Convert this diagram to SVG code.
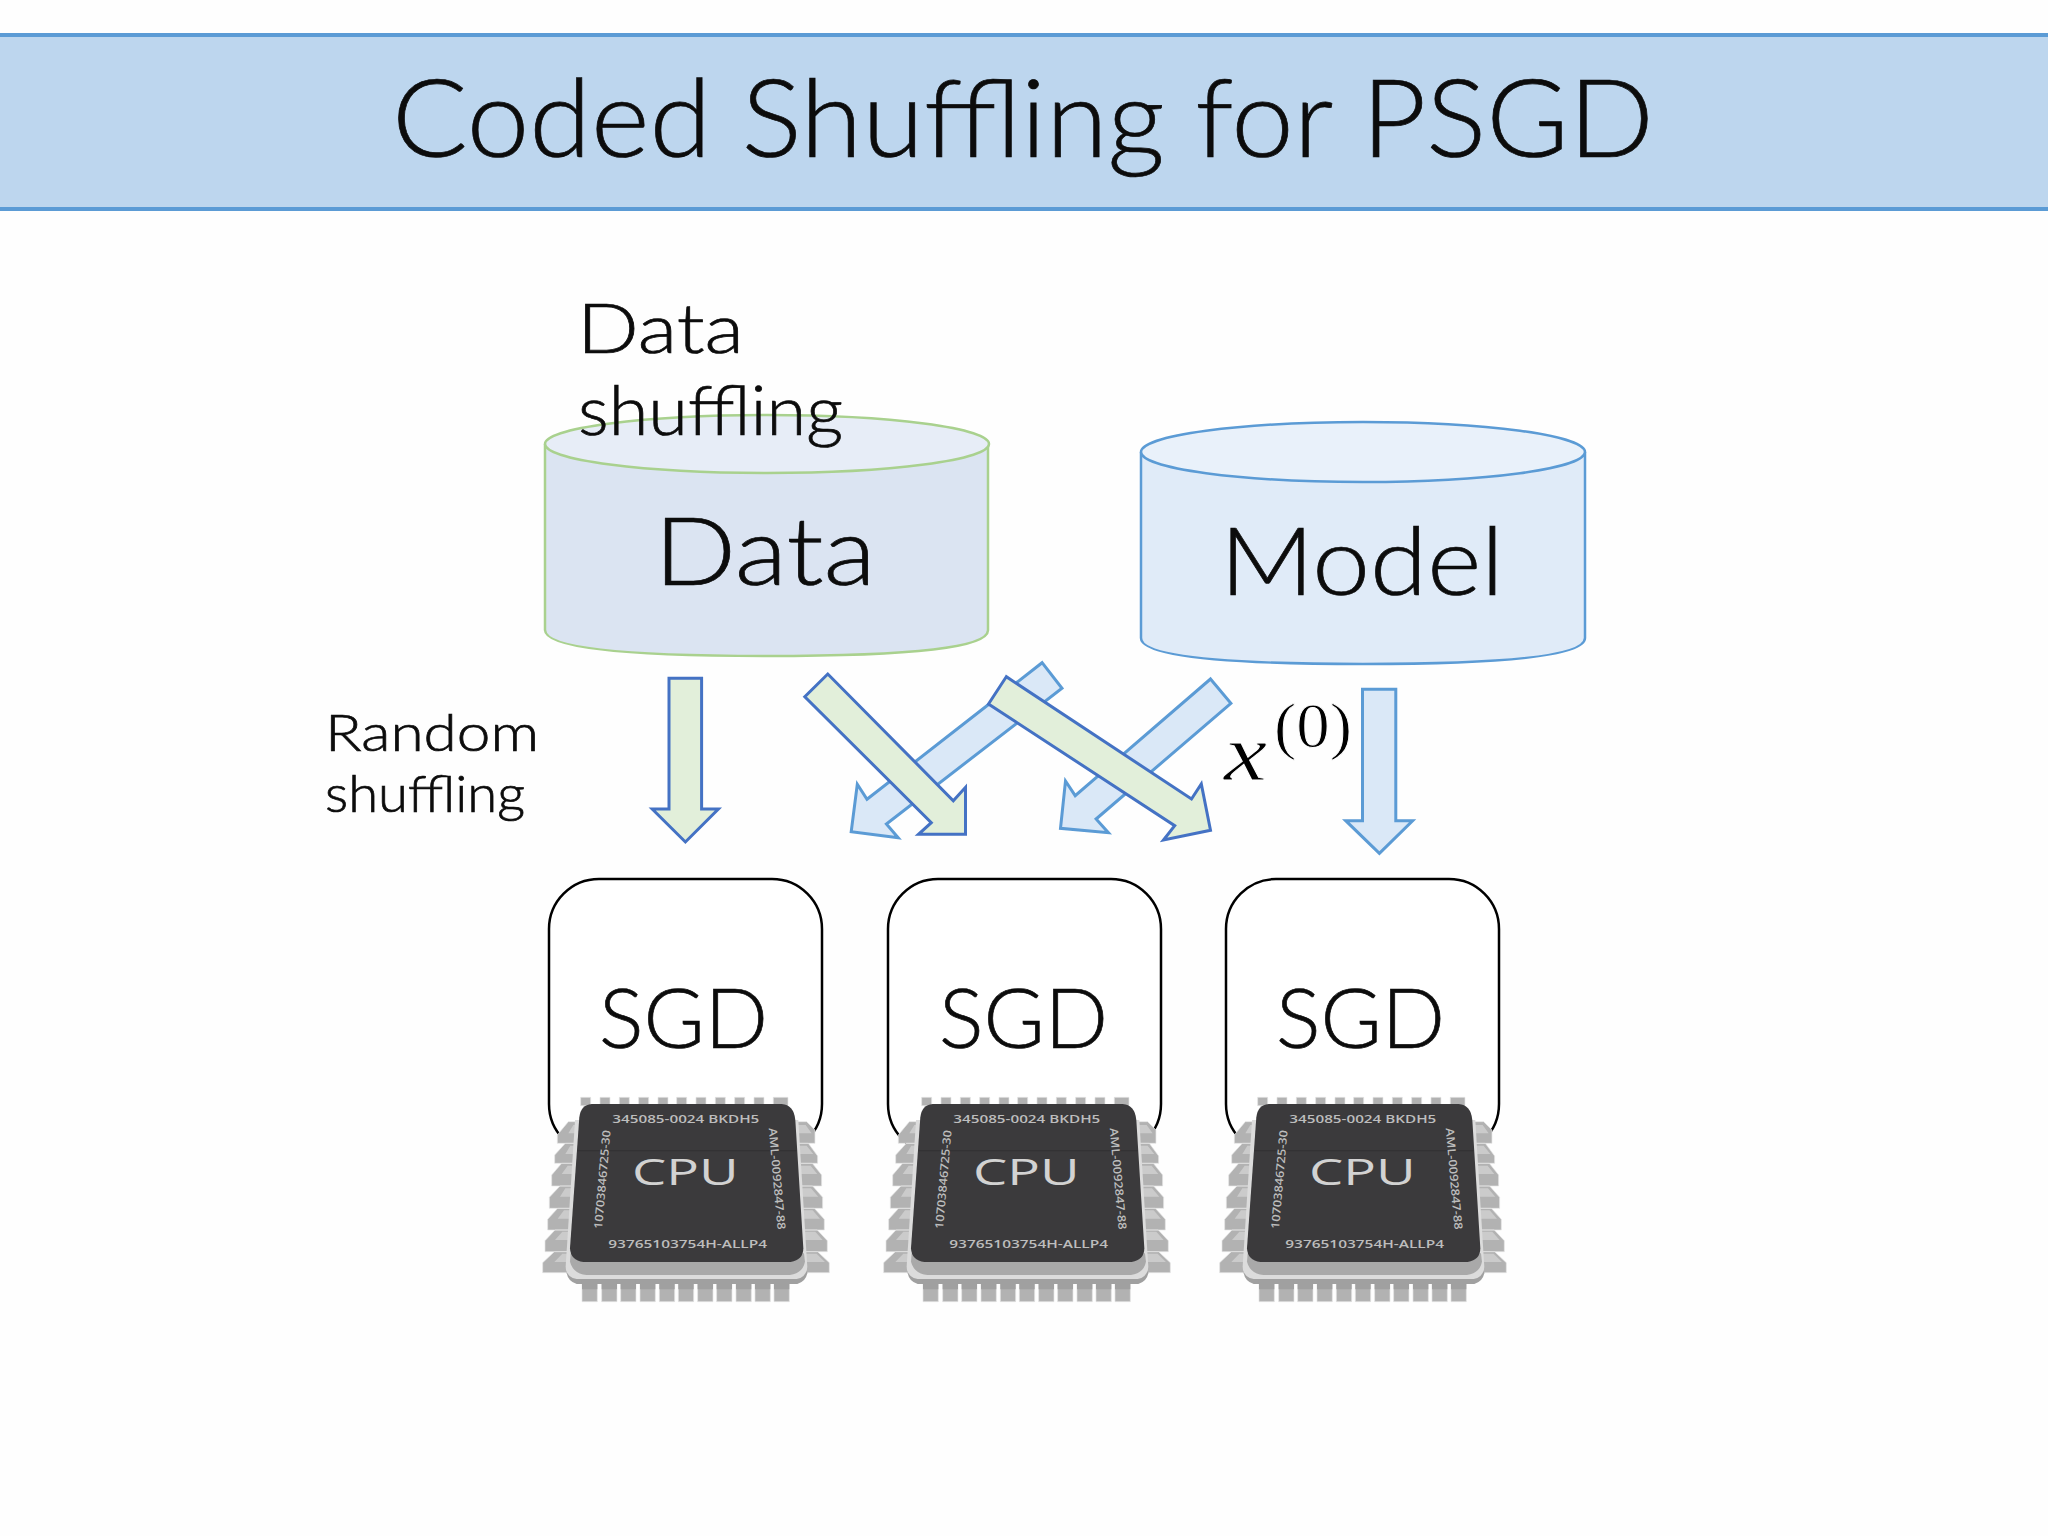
<svg xmlns="http://www.w3.org/2000/svg" width="2048" height="1536" viewBox="0 0 2048 1536">
<style>
text{font-family:"Lato","Open Sans","Liberation Sans",sans-serif;fill:#0c0c0c;font-weight:300;stroke:#0c0c0c;stroke-width:.7}
.dn{fill:#e2efda;stroke:#4472c4;stroke-width:3;stroke-linejoin:miter}
.bl{fill:#dae8f7;stroke:#5b9bd5;stroke-width:3;stroke-linejoin:miter}
.sgd{fill:#fff;stroke:#000;stroke-width:2.5}
.pin{fill:#b2b2b2;stroke:#e6e6e6;stroke-width:2}.pd{fill:#a0a0a0}.pl{fill:#cbcbcb}
text.ct{font-family:"Open Sans","Liberation Sans",sans-serif;fill:#bdbdbd;font-size:34px;font-weight:600;stroke:none}
text.cb{font-family:"Open Sans","Liberation Sans",sans-serif;fill:#d2d2d2;font-size:108px;font-weight:400;stroke:none}
text.m{font-family:"Liberation Serif","Times New Roman",serif;fill:#000;font-weight:400;stroke:#fefefe;stroke-width:.9}
</style>
<defs>
<g id="chip">
<g class="pin">
<path d="M182 52h30v25h-30zM240 52h30v25h-30zM298 52h30v25h-30zM356 52h30v25h-30zM414 52h30v25h-30zM470 52h30v25h-30zM528 52h30v25h-30zM586 52h30v25h-30zM644 52h30v25h-30zM702 52h30v25h-30zM760 52h44v25h-44z"/>
<path d="M186 600h46v65h-46zM245 600h46v65h-46zM302 600h46v65h-46zM360 600h46v65h-46zM418 600h46v65h-46zM475 600h46v65h-46zM533 600h46v65h-46zM590 600h46v65h-46zM648 600h46v65h-46zM705 600h46v65h-46zM762 600h46v65h-46z"/>
<path d="M112 165l33-40h35v65h-68zM104 225l32-35h40v60h-72zM95 285l30-35h48v68h-78zM88 352l32-34h50v67h-82zM83 418l30-33h55v65h-85zM75 482l30-32h60v65h-90zM68 548l35-33h60v63h-95z"/>
<path d="M885 190v-40l-25-25h-30v65zM893 250v-22l-28-38h-35v60zM905 318v-33l-28-35h-47v68zM908 385v-33l-30-34h-48v67zM913 450v-32l-30-33h-53v65zM922 515v-33l-30-32h-62v65zM928 578v-30l-35-33h-63v63z"/>
</g>
<path class="pl" d="M145 160h35v-25h-20zM136 222h40v-25h-25zM125 282h48v-25h-30zM120 350h50v-25h-34zM113 416h55v-25h-36zM105 480h60v-25h-38zM103 546h60v-25h-36z"/>
<path class="pl" d="M830 160h45l-18-25h-27zM830 222h50l-20-25h-30zM830 282h62l-20-25h-42zM830 350h65l-22-25h-43zM830 416h70l-22-25h-48zM830 480h78l-22-25h-56zM830 546h85l-25-25h-60z"/>
<path class="pd" d="M140 575h722v5q-5 25-30 32H170q-25-7-30-32z"/>
<path class="pd" d="M186 600h46v28h-46zM245 600h46v28h-46zM302 600h46v28h-46zM360 600h46v28h-46zM418 600h46v28h-46zM475 600h46v28h-46zM533 600h46v28h-46zM590 600h46v28h-46zM648 600h46v28h-46zM705 600h46v28h-46zM762 600h46v28h-46z"/>
<path fill="#dcdcdc" d="M165 120L137 560Q138 592 170 597H830Q860 592 862 560L835 120z"/>
<path fill="#a9a9a9" d="M152 520L150 545Q160 582 200 585H810Q848 580 855 545L852 520z"/>
<path fill="#3b3a3c" d="M215 72H785Q822 75 826 120L850 505Q850 540 812 546H190Q152 542 150 505L178 112Q182 75 215 72z"/>
<path d="M172 212H830" stroke="#2e2d2f" stroke-width="2"/>
</g>
</defs>
<rect width="2048" height="1536" fill="#fefefe"/>
<g id="header">
<rect x="-4" y="35" width="2056" height="174" fill="#bdd6ee" stroke="#5b9bd5" stroke-width="4"/>
<text x="392" y="157" font-size="108" textLength="1262" lengthAdjust="spacingAndGlyphs">Coded Shuffling for PSGD</text>
</g>
<g id="data">
<path d="M545 444V630Q545 656 767 656T988 630V444" fill="#dbe4f2" stroke="#a9d18e" stroke-width="2.5"/>
<ellipse cx="767" cy="444" rx="222" ry="29" fill="#e7edf7" stroke="#a9d18e" stroke-width="2.5"/>
<text x="654" y="585" font-size="94" textLength="222" lengthAdjust="spacingAndGlyphs">Data</text>
</g>
<g id="model">
<path d="M1141 452V638Q1141 664 1363 664T1585 638V452" fill="#e0ebf8" stroke="#5b9bd5" stroke-width="2.5"/>
<ellipse cx="1363" cy="452" rx="222" ry="30" fill="#e9f1fa" stroke="#5b9bd5" stroke-width="2.5"/>
<text x="1220" y="595" font-size="94" textLength="284" lengthAdjust="spacingAndGlyphs">Model</text>
</g>
<g id="label-data-shuffling">
<text x="577" y="353" font-size="68" textLength="167" lengthAdjust="spacingAndGlyphs">Data</text>
<text x="578" y="435" font-size="68" textLength="265" lengthAdjust="spacingAndGlyphs">shuffling</text>
</g>
<g id="label-random-shuffling">
<text x="325" y="751" font-size="52" textLength="214" lengthAdjust="spacingAndGlyphs">Random</text>
<text x="325" y="812" font-size="52" textLength="200" lengthAdjust="spacingAndGlyphs">shuffling</text>
</g>
<g id="connectors">
<path class="bl" d="M1042.1 662.7L1062 688.3L886.4 824L898.2 837.7L851.2 831.7L857.3 784.3L867 799.3z"/>
<path class="bl" d="M1210.5 679L1230.9 703.3L1096.1 819L1108.4 832.7L1060.5 828.3L1065.5 781L1075.2 795.7z"/>
<path class="dn" d="M669 678.3H701.6V809H718.4L685.4 842L652.2 809H669z"/>
<path class="dn" d="M827.8 674L804.8 696.7L931.3 822.7L918.5 834.3H965.5V787.3L953.3 800.7z"/>
<path class="dn" d="M1006.3 676.7L988.5 704L1174.7 825.7L1163.5 840L1210.5 830.3L1201.3 784L1191.5 799z"/>
<path class="bl" d="M1362.5 689.3H1395.8V820.7H1412.6L1379.4 853.3L1345.7 820.7H1362.5z"/>
</g>
<g id="label-x0">
<text class="m" x="1224" y="780" font-size="80" font-style="italic" textLength="43" lengthAdjust="spacingAndGlyphs">x</text>
<text class="m" x="1274" y="747" font-size="64" textLength="78" lengthAdjust="spacingAndGlyphs">(0)</text>
</g>
<g id="sgd1">
<rect class="sgd" x="549" y="879" width="273" height="275" rx="50"/>
<text x="599" y="1048" font-size="82" textLength="169" lengthAdjust="spacingAndGlyphs">SGD</text>
</g>
<g id="sgd2">
<rect class="sgd" x="888" y="879" width="273" height="275" rx="50"/>
<text x="939" y="1048" font-size="82" textLength="169" lengthAdjust="spacingAndGlyphs">SGD</text>
</g>
<g id="sgd3">
<rect class="sgd" x="1226" y="879" width="273" height="275" rx="50"/>
<text x="1276" y="1048" font-size="82" textLength="169" lengthAdjust="spacingAndGlyphs">SGD</text>
</g>
<g id="cpu1" transform="translate(520 1080) scale(.3333)">
<use href="#chip"/>
<text class="ct" x="277" y="128" textLength="441" lengthAdjust="spacingAndGlyphs">345085-0024 BKDH5</text>
<text class="cb" x="336" y="316" textLength="320" lengthAdjust="spacingAndGlyphs">CPU</text>
<text class="ct" x="265" y="503" textLength="476" lengthAdjust="spacingAndGlyphs">93765103754H-ALLP4</text>
<text class="ct" transform="translate(246 448) rotate(-85)" textLength="298" lengthAdjust="spacingAndGlyphs">10703846725-30</text>
<text class="ct" transform="translate(746 145) rotate(85)" textLength="306" lengthAdjust="spacingAndGlyphs">AML-0092847-88</text>
</g>
<g id="cpu2" transform="translate(861 1080) scale(.3333)">
<use href="#chip"/>
<text class="ct" x="277" y="128" textLength="441" lengthAdjust="spacingAndGlyphs">345085-0024 BKDH5</text>
<text class="cb" x="336" y="316" textLength="320" lengthAdjust="spacingAndGlyphs">CPU</text>
<text class="ct" x="265" y="503" textLength="476" lengthAdjust="spacingAndGlyphs">93765103754H-ALLP4</text>
<text class="ct" transform="translate(246 448) rotate(-85)" textLength="298" lengthAdjust="spacingAndGlyphs">10703846725-30</text>
<text class="ct" transform="translate(746 145) rotate(85)" textLength="306" lengthAdjust="spacingAndGlyphs">AML-0092847-88</text>
</g>
<g id="cpu3" transform="translate(1197 1080) scale(.3333)">
<use href="#chip"/>
<text class="ct" x="277" y="128" textLength="441" lengthAdjust="spacingAndGlyphs">345085-0024 BKDH5</text>
<text class="cb" x="336" y="316" textLength="320" lengthAdjust="spacingAndGlyphs">CPU</text>
<text class="ct" x="265" y="503" textLength="476" lengthAdjust="spacingAndGlyphs">93765103754H-ALLP4</text>
<text class="ct" transform="translate(246 448) rotate(-85)" textLength="298" lengthAdjust="spacingAndGlyphs">10703846725-30</text>
<text class="ct" transform="translate(746 145) rotate(85)" textLength="306" lengthAdjust="spacingAndGlyphs">AML-0092847-88</text>
</g>
</svg>
